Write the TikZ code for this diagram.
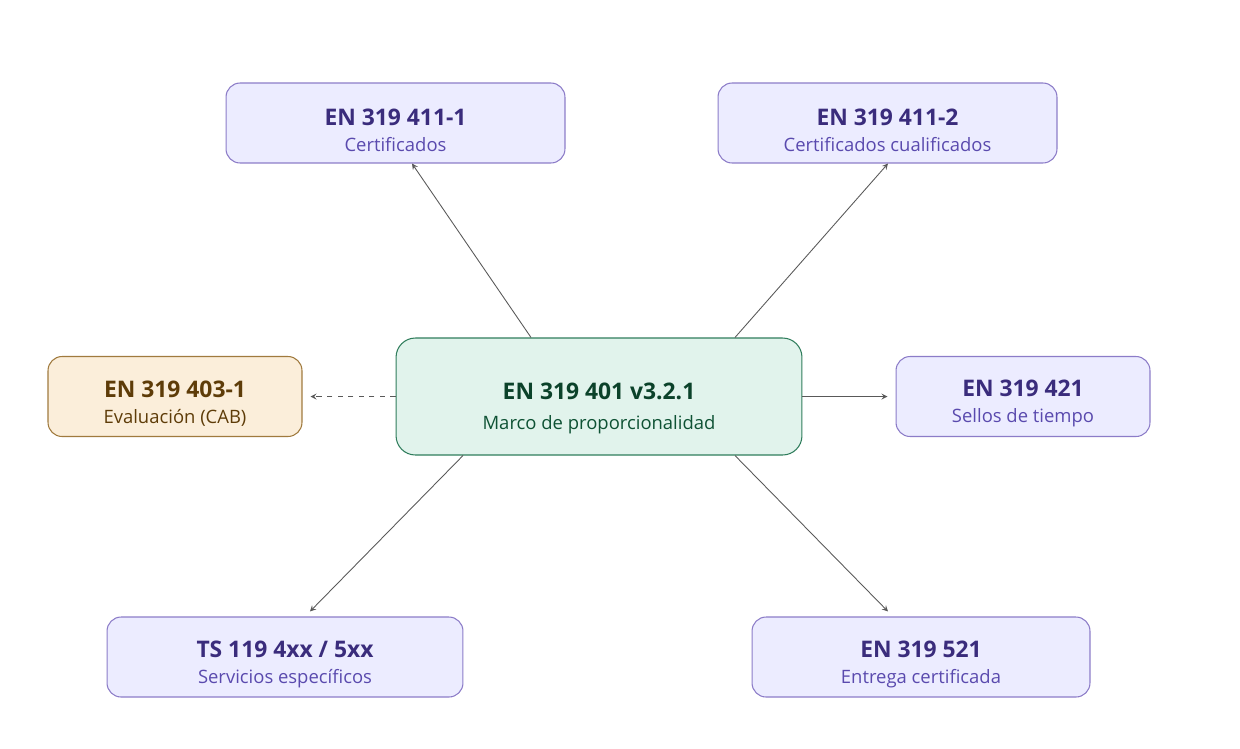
\documentclass[tikz,border=0pt]{standalone}
\usepackage{fontspec}
\setmainfont{Open Sans}
\usepackage{xcolor}
\usetikzlibrary{positioning}
\definecolor{purpfill}{HTML}{ECECFF}
\definecolor{purpline}{HTML}{8C7CC8}
\definecolor{purptext}{HTML}{3A2C7C}
\definecolor{purpsub}{HTML}{5A4AAE}
\definecolor{grnfill}{HTML}{E1F3EC}
\definecolor{grnline}{HTML}{2F7D5C}
\definecolor{grntext}{HTML}{0E5234}
\definecolor{orfill}{HTML}{FBEEDA}
\definecolor{orline}{HTML}{A07A3E}
\definecolor{ortext}{HTML}{5E3C08}

\tikzset{
  box/.style={draw=purpline, fill=purpfill, rounded corners=8pt, align=center,
    text=purpsub, font=\fontsize{10.5}{15}\selectfont, minimum height=1.6cm, line width=0.6pt},
  core/.style={box, draw=grnline, fill=grnfill, text=grntext, minimum height=2.34cm,
    minimum width=8.12cm, rounded corners=11pt, font=\fontsize{10.5}{17}\selectfont},
  cab/.style={box, draw=orline, fill=orfill, text=ortext},
  link/.style={->, draw=black!65, line width=0.5pt, >={stealth}}
}
\newcommand{\ttl}[1]{{\rule{0pt}{0.62cm}\fontsize{13}{15}\selectfont\bfseries #1}}

\begin{document}
\begin{tikzpicture}[x=0.02cm, y=-0.02cm]
    \useasboundingbox (0,0) rectangle (1240,748);

    \node[core] (marco) at (599,396.5) {{\rule{0pt}{0.8cm}\fontsize{13}{15}\selectfont\bfseries\color{grntext!80!black}EN 319 401 v3.2.1}\\Marco de proporcionalidad};

    \node[box, minimum width=6.78cm] (cert) at (395.5,123) {\color{purptext}\ttl{EN 319 411-1}\\Certificados};
    \node[box, minimum width=6.78cm] (qcert) at (887.5,123) {\color{purptext}\ttl{EN 319 411-2}\\\color{purpsub}Certificados cualificados};
    \node[cab, minimum width=5.08cm] (eval) at (175,396.5) {\ttl{EN 319 403-1}\\Evaluación (CAB)};
    \node[box, minimum width=5.08cm] (sellos) at (1023,396.5) {\color{purptext}\ttl{EN 319 421}\\\color{purpsub}Sellos de tiempo};
    \node[box, minimum width=7.12cm] (serv) at (285,657) {\color{purptext}\ttl{TS 119 4xx / 5xx}\\\color{purpsub}Servicios específicos};
    \node[box, minimum width=6.76cm] (entrega) at (921,657) {\color{purptext}\ttl{EN 319 521}\\\color{purpsub}Entrega certificada};

    % arrows from the framework
    \draw[link] ([xshift=-1.36cm]marco.north) -- ([xshift=0.33cm]cert.south);
    \draw[link] ([xshift=2.72cm]marco.north) -- ([xshift=0.01cm]qcert.south);
    \draw[link, dashed] (marco.west) -- ([xshift=0.16cm]eval.east);
    \draw[link] (marco.east) -- ([xshift=-0.16cm]sellos.west);
    \draw[link] ([xshift=-2.72cm]marco.south) -- ([xshift=0.5cm,yshift=0.1cm]serv.north);
    \draw[link] ([xshift=2.72cm]marco.south) -- ([xshift=-0.66cm,yshift=0.1cm]entrega.north);
\end{tikzpicture}
\end{document}
